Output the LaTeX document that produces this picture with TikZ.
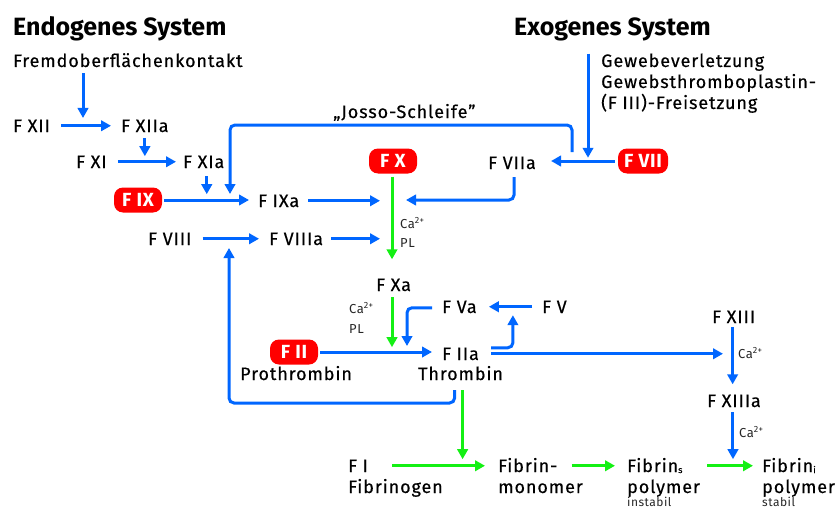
\documentclass[tikz,border=0pt]{standalone}
\usepackage{fontspec}
\setmainfont{Fira Sans}
\newfontfamily\labfont{Fira Sans}[LetterSpace=5,FakeBold=0.4]
\newfontfamily\smlfont{Fira Sans}[LetterSpace=4]
\newfontfamily\redfont{Fira Sans}[LetterSpace=4]
\usetikzlibrary{arrows.meta,calc}
\definecolor{fblue}{RGB}{0,102,255}
\definecolor{fgreen}{RGB}{20,240,20}
\definecolor{fred}{RGB}{255,0,0}
\newcommand{\casup}{Ca\raisebox{4.5pt}{\fontsize{9}{9}\selectfont 2+}}
\begin{document}
\begin{tikzpicture}[x=1pt,y=-1pt,
  lab/.style={font=\labfont\fontsize{18}{20}\selectfont, inner sep=0pt, text height=12.5pt, text depth=0pt, anchor=base west},
  ttl/.style={font=\fontsize{25}{28}\selectfont\bfseries, inner sep=0pt, anchor=base west},
  sml/.style={font=\smlfont\fontsize{13}{15}\selectfont, inner sep=0pt, anchor=base west, text=black!85},
  redbox/.style={fill=fred, text=white, font=\redfont\fontsize{19}{20}\selectfont\bfseries, rounded corners=9pt, minimum height=25pt, minimum width=48pt, inner xsep=6pt, inner ysep=0pt, text height=13pt, text depth=0pt},
  arr/.style={draw=fblue, line width=3pt, -{Triangle[length=10pt,width=10.5pt]}},
  garr/.style={draw=fgreen, line width=3pt, -{Triangle[length=10pt,width=10.5pt]}}]
\useasboundingbox (0,0) rectangle (837,508);
% titles
\node[ttl] (endo) at (13,36) {Endogenes System};
\node[ttl] (exo) at (514,36) {Exogenes System};
\node[lab] (fremd) at (13,67) {Fremdoberflächenkontakt};
\node[lab] (gew1) at (601,67) {Gewebeverletzung};
\node[lab] (gew2) at (601,88) {Gewebsthromboplastin-};
\node[lab] (gew3) at (601,109) {(F III)-Freisetzung};
\node[lab] (josso) at (333,118) {„Josso-Schleife”};
% factors
\node[lab] (fxii) at (13,132) {F XII};
\node[lab] (fxiia) at (121,132) {F XIIa};
\node[lab] (fxi) at (76,168) {F XI};
\node[lab] (fxia) at (183,168) {F XIa};
\node[redbox] (fix) at (138,200) {F IX};
\node[lab] (fixa) at (258,207) {F IXa};
\node[redbox] (fx) at (393,161) {F X};
\node[lab] (fviia) at (488,169) {F VIIa};
\node[redbox] (fvii) at (643,161) {F VII};
\node[sml] (ca1) at (400,228) {\casup};
\node[sml] (pl1) at (400,247) {PL};
\node[lab] (fviii) at (148,245) {F VIII};
\node[lab] (fviiia) at (269,245) {F VIIIa};
\node[lab] (fxa) at (376,291) {F Xa};
\node[sml] (ca2) at (349,313) {\casup};
\node[sml] (pl2) at (349,333) {PL};
\node[lab] (fva) at (442,313) {F Va};
\node[lab] (fv) at (542,313) {F V};
\node[redbox] (fii) at (294,352) {F II};
\node[lab] (prothr) at (240,380) {Prothrombin};
\node[lab] (fiia) at (442,360) {F IIa};
\node[lab] (thr) at (418,380) {Thrombin};
\node[lab] (fxiii) at (712,323) {F XIII};
\node[sml] (ca3) at (738,358) {\casup};
\node[lab] (fxiiia) at (707,407) {F XIIIa};
\node[sml] (ca4) at (739,437) {\casup};
\node[lab] (fi) at (348,472) {F I};
\node[lab] (fibrinogen) at (348,493) {Fibrinogen};
\node[lab] (fm1) at (498,472) {Fibrin-};
\node[lab] (fm2) at (498,493) {monomer};
\node[lab] (fs1) at (627,472) {Fibrin\raisebox{-1pt}{\fontsize{9}{9}\selectfont s}};
\node[lab] (fs2) at (627,493) {polymer};
\node[sml] (fs3) at (627,506) {\fontsize{12}{14}\selectfont instabil};
\node[lab] (fst1) at (762,472) {Fibrin\raisebox{-1pt}{\fontsize{9}{9}\selectfont i}};
\node[lab] (fst2) at (762,493) {polymer};
\node[sml] (fst3) at (762,506) {\fontsize{12}{14}\selectfont stabil};
% junction coordinates
\coordinate (j1) at (83,118);
\coordinate (jx) at (392,200);
\coordinate (jv) at (572,152);
\coordinate (jtop) at (230,125);
\coordinate (jend) at (230,194);
\coordinate (jy) at (407,346);
\coordinate (jl) at (229,248);
% blue connectors
\draw[arr] ($(fremd.south -| j1)+(0,6)$) -- (j1);
\draw[arr] ($(fxii.east)+(11,0)$) -- ($(fxiia.west)+(-10,0)$);
\draw[arr] ($(fxiia.south)+(0,6)$) -- ++(0,18);
\draw[arr] ($(fxi.east)+(11,0)$) -- ($(fxia.west)+(-7,0)$);
\draw[arr] ($(fxia.south)+(3,8)$) -- ++(0,18);
\draw[arr] ($(fix.east)+(2,0)$) -- ($(fix.east -| fixa.west)+(-9,0)$);
\draw[arr, rounded corners=5pt] (jv) |- (jtop) -- (jend);
\draw[arr] ($(fixa.east)+(9,0)$) -- ($(fixa.east -| jx)+(-12,0)$);
\draw[arr, rounded corners=5pt] ($(fviia.south)+(2,8)$) |- ($(jx)+(14,0)$);
\draw[arr] ($(fvii.west)+(-3,0)$) -- ($(fvii.west -| fviia.east)+(15,0)$);
\draw[arr] ($(exo.south west)+(74,12)$) -- ++(0,104);
\draw[arr] ($(fviii.east)+(11,0)$) -- ($(fviiia.west)+(-10,0)$);
\draw[arr] ($(fviiia.east)+(8,0)$) -- ($(fviiia.east -| jx)+(-12,0)$);
\draw[arr] ($(fv.west)+(-10,0)$) -- ($(fva.east)+(12,0)$);
\draw[arr, rounded corners=5pt] ($(fva.west)+(-10,1)$) -| (jy);
\draw[arr, rounded corners=5pt] ($(fiia.east)+(12,-6)$) -| ($(fva.south east)+(36,2)$);
\draw[arr] ($(fii.east)+(2,0)$) -- ($(fii.east -| fiia.west)+(-10,0)$);
\draw[arr] ($(fiia.east)+(12,0)$) -- ($(fiia.east -| fxiii.west)+(11,0)$);
\draw[arr, rounded corners=5pt] ($(thr.south)+(-6,10)$) |- ($(jl)+(0,155)$) -- (jl);
\draw[arr] ($(fxiii.south)+(-1,4)$) -- ($(fxiii.south |- fxiiia.north)+(-1,-10)$);
\draw[arr] ($(fxiiia.south)+(-1,5)$) -- ++(0,47);
% green connectors
\draw[garr] (fx.south -| jx) ++(0,3) -- ($(fxa.north -| jx)+(0,-19)$);
\draw[garr] ($(fxa.south -| jx)+(0,6)$) -- ++(0,50);
\draw[garr] ($(thr.south)+(2,10)$) -- ++(0,69);
\draw[garr] ($(fi.east)+(24,0)$) -- ($(fm1.west)+(-13,0)$);
\draw[garr] ($(fm1.east)+(14,0)$) -- ($(fs1.west)+(-12,0)$);
\draw[garr] ($(fs2.east |- fs1.east)+(7,0)$) -- ($(fst1.west)+(-9,0)$);
\end{tikzpicture}
\end{document}
